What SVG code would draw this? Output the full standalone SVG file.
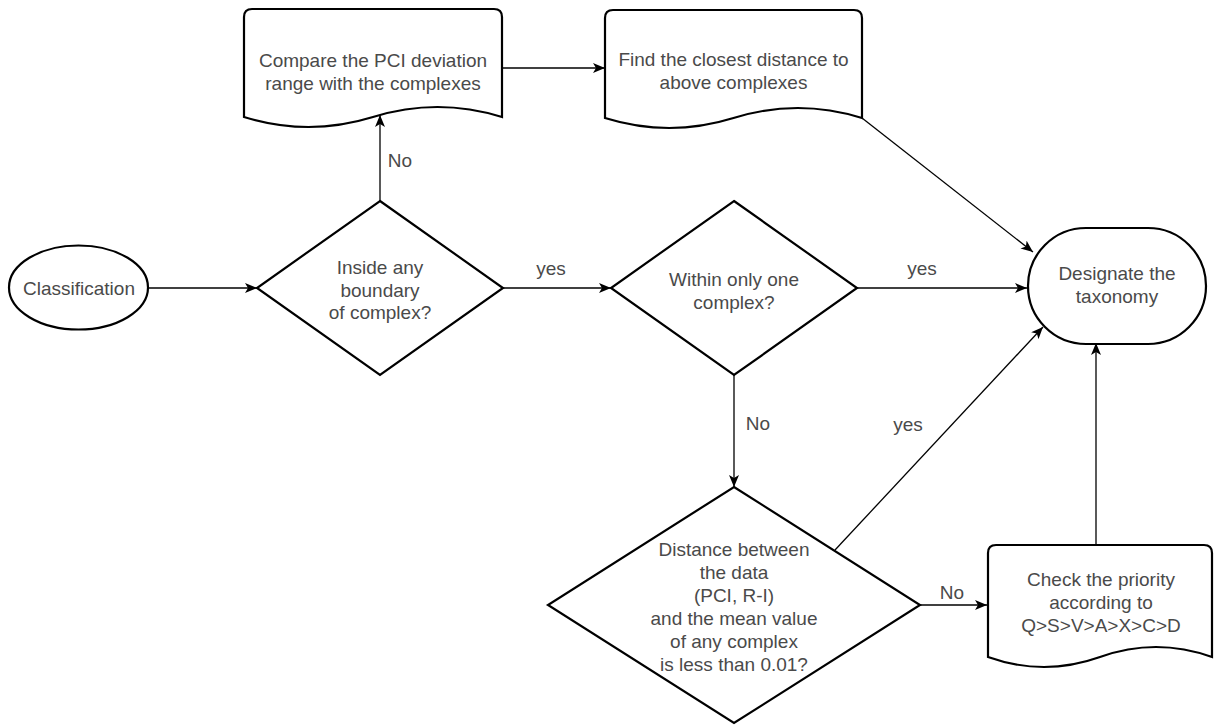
<svg xmlns="http://www.w3.org/2000/svg" width="1214" height="727" viewBox="0 0 1214 727">
<style>
.shape{fill:#fff;stroke:#000;stroke-width:2.2}
.t{font-family:"Liberation Sans",Arial,sans-serif;font-size:19px;fill:#4a4a4a;text-anchor:middle}
.e{fill:none;stroke:#000;stroke-width:1.3}
</style>
<defs>
<marker id="arr" markerUnits="userSpaceOnUse" markerWidth="13" markerHeight="10" refX="12" refY="5" orient="auto">
<path d="M0,0 L12,5 L0,10 L3,5 Z" fill="#000"/>
</marker>
</defs>
<rect width="1214" height="727" fill="#fff"/>
<g id="connectors">
<line class="e" x1="148" y1="288" x2="257" y2="288" marker-end="url(#arr)"/>
<line class="e" x1="380" y1="201" x2="380" y2="115" marker-end="url(#arr)"/>
<line class="e" x1="502" y1="68" x2="605" y2="68" marker-end="url(#arr)"/>
<line class="e" x1="503" y1="288" x2="611" y2="288" marker-end="url(#arr)"/>
<line class="e" x1="857" y1="288" x2="1027" y2="288" marker-end="url(#arr)"/>
<line class="e" x1="862" y1="118" x2="1033" y2="252" marker-end="url(#arr)"/>
<line class="e" x1="734" y1="375" x2="734" y2="487" marker-end="url(#arr)"/>
<line class="e" x1="835" y1="550" x2="1043" y2="327" marker-end="url(#arr)"/>
<line class="e" x1="920" y1="605" x2="987" y2="605" marker-end="url(#arr)"/>
<line class="e" x1="1096" y1="545" x2="1096" y2="343" marker-end="url(#arr)"/>
<text class="t" x="400" y="167">No</text>
<text class="t" x="551" y="275">yes</text>
<text class="t" x="922" y="275">yes</text>
<text class="t" x="758" y="430">No</text>
<text class="t" x="908" y="431">yes</text>
<text class="t" x="952" y="599">No</text>
</g>
<g id="classification">
<ellipse class="shape" cx="78.5" cy="287.5" rx="69.5" ry="42"/>
<text class="t" x="79" y="295">Classification</text>
</g>
<g id="inside-boundary">
<path class="shape" d="M380,201 L503,288 L380,375 L257,288 Z"/>
<text class="t" x="380" y="274">Inside any</text>
<text class="t" x="380" y="297">boundary</text>
<text class="t" x="380" y="319">of complex?</text>
</g>
<g id="compare-pci">
<path class="shape" d="M244,17 Q244,9 252,9 L494,9 Q502,9 502,17 L502,117 Q437.5,97 373,117 Q308.5,137 244,117 Z"/>
<text class="t" x="373" y="67">Compare the PCI deviation</text>
<text class="t" x="373" y="90">range with the complexes</text>
</g>
<g id="find-closest">
<path class="shape" d="M605,18 Q605,10 613,10 L854,10 Q862,10 862,18 L862,118 Q797.75,98 733.5,118 Q669.25,138 605,118 Z"/>
<text class="t" x="733.5" y="66">Find the closest distance to</text>
<text class="t" x="733.5" y="89">above complexes</text>
</g>
<g id="within-one">
<path class="shape" d="M734,201 L857,288 L734,375 L611,288 Z"/>
<text class="t" x="734" y="286">Within only one</text>
<text class="t" x="734" y="309">complex?</text>
</g>
<g id="designate">
<rect class="shape" x="1028" y="228" width="178" height="116" rx="58" ry="58"/>
<text class="t" x="1117" y="280">Designate the</text>
<text class="t" x="1117" y="303">taxonomy</text>
</g>
<g id="distance">
<path class="shape" d="M734,487 L920,605 L734,723 L548,605 Z"/>
<text class="t" x="734" y="556">Distance between</text>
<text class="t" x="734" y="579">the data</text>
<text class="t" x="734" y="602">(PCI, R-I)</text>
<text class="t" x="734" y="625">and the mean value</text>
<text class="t" x="734" y="648">of any complex</text>
<text class="t" x="734" y="671">is less than 0.01?</text>
</g>
<g id="check-priority">
<path class="shape" d="M988,553 Q988,545 996,545 L1204,545 Q1212,545 1212,553 L1212,657 Q1156,637 1100,657 Q1044,677 988,657 Z"/>
<text class="t" x="1101" y="586">Check the priority</text>
<text class="t" x="1101" y="609">according to</text>
<text class="t" x="1101" y="632">Q&gt;S&gt;V&gt;A&gt;X&gt;C&gt;D</text>
</g>
</svg>
